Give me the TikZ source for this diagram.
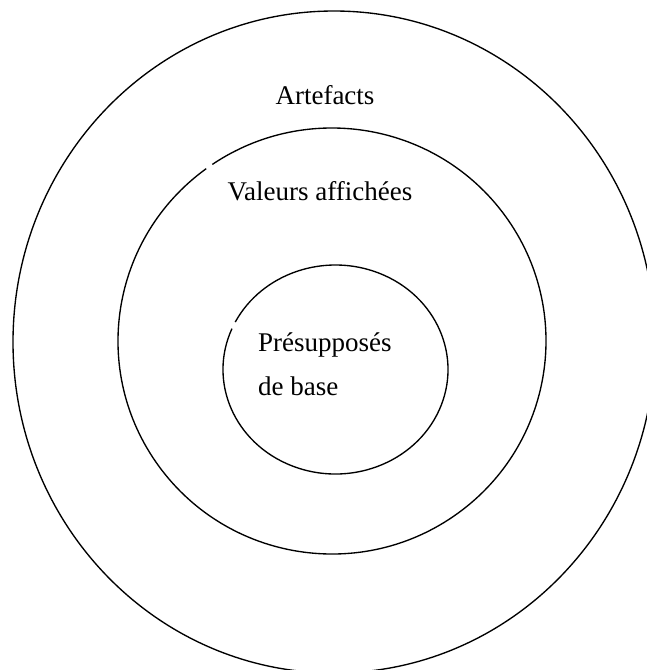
\documentclass[tikz,border=0pt]{standalone}
\usepackage{fontspec}
\setmainfont{Liberation Serif}
\begin{document}
\begin{tikzpicture}[x=1pt,y=1pt,
  ring/.style={line width=1.35pt, black},
  label/.style={font=\fontsize{27}{32}\selectfont, inner sep=0pt}]
\useasboundingbox (0,0) rectangle (647,-670);
\begin{scope}
\clip (0,0) rectangle (647,-670);
% centres of the three layers
\coordinate (cout) at (334,-342);
\coordinate (cmid) at (332,-341);
\coordinate (cin)  at (335.5,-369.5);
% outer layer, running past the right and bottom edges
\draw[ring] (cout) ellipse[x radius=321, y radius=331];
% middle layer, with a small break on its upper left
\draw[ring] ([shift={(126:214 and 213)}]cmid)
  arc[start angle=126, end angle=484, x radius=214, y radius=213];
% inner layer, with a small break on its left
\draw[ring] ([shift={(157:112.5 and 104.5)}]cin)
  arc[start angle=157, end angle=513, x radius=112.5, y radius=104.5];
\end{scope}
% labels
\node[label, anchor=base] (art) at (325,-104) {Artefacts};
\node[label, anchor=base] (val) at (320,-200) {Valeurs affichées};
\node[label, anchor=base west] (pre1) at (258,-351) {Présupposés};
\node[label, anchor=base west] (pre2) at (258,-395) {de base};
\end{tikzpicture}
\end{document}
